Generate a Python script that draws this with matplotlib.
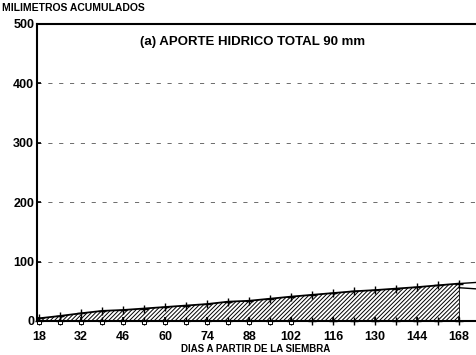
import matplotlib.pyplot as plt

plt.rcParams['font.family'] = ['Liberation Sans', 'DejaVu Sans']
plt.rcParams['hatch.linewidth'] = 0.7

# acumulado cada 7 dias desde la siembra
dias = [18, 25, 32, 39, 46, 53, 60, 67, 74, 81, 88, 95, 102, 109, 116,
        123, 130, 137, 144, 151, 158]
acumulado = [4.5, 8.5, 13, 17, 18.5, 21, 23.5, 26, 28.5, 32.5, 34, 37.5, 41,
             44, 47, 50, 52, 54.5, 57, 60, 63]
base = [0] * len(dias)
dias_cuadro = [18, 25, 32, 39, 46, 53, 60, 67, 74, 81, 88, 95, 102]

# tramo final despues del ultimo muestreo
dias_fin = [158, 164]
fin_sup = [63, 65]
fin_inf = [56, 54]

xticks = [18, 32, 46, 60, 74, 88, 102, 116, 130, 144, 158]
xlabels = ['18', '32', '46', '60', '74', '88', '102', '116', '130', '144', '168']
yticks = [0, 100, 200, 300, 400, 500]

fig = plt.figure(figsize=(4.77, 3.55), dpi=100)
ax = fig.add_axes([0.0776, 0.0958, 0.9224, 0.8366])

ax.fill_between(dias, base, acumulado, facecolor='white', edgecolor='black',
                hatch='////////', linewidth=0)
ax.plot([dias[-1], dias[-1]], [0, acumulado[-1]], color='black', lw=0.6)
ax.plot(dias, acumulado, color='black', lw=1.3, marker='+', ms=6, mew=1.0)
ax.plot(dias_fin, fin_sup, color='black', lw=1.0)
ax.plot(dias_fin, fin_inf, color='black', lw=1.0)
ax.plot(dias, base, color='black', lw=1.5, marker='+', ms=6, mew=1.0,
        linestyle='none', clip_on=False)
ax.plot(dias_cuadro, [-2] * len(dias_cuadro), marker='s', ms=3.5, mfc='white',
        mec='black', mew=0.7, linestyle='none', clip_on=False)

for y in yticks[1:-1]:
    ax.axhline(y, color='#555555', lw=0.6, dashes=(5, 8), zorder=0)

ax.set_xlim(17.3, 164)
ax.set_ylim(0, 500)
ax.set_xticks(xticks)
ax.set_xticklabels(xlabels)
ax.set_yticks(yticks)
ax.tick_params(axis='both', direction='in', length=3, width=1.2,
               labelsize=9)
ax.tick_params(axis='x', pad=7)
ax.tick_params(axis='y', pad=2)
for lab in ax.get_xticklabels() + ax.get_yticklabels():
    lab.set_fontweight('bold')

ax.spines['right'].set_visible(False)
for s in ['left', 'bottom', 'top']:
    ax.spines[s].set_linewidth(1.5)

ax.text(0.235, 0.94, '(a) APORTE HIDRICO TOTAL 90 mm', transform=ax.transAxes,
        fontsize=9.5, fontweight='bold', va='center', ha='left')
fig.text(0.005, 0.978, 'MILIMETROS ACUMULADOS', fontsize=7.5,
         fontweight='bold', va='center', ha='left')
fig.text(0.535, 0.017, 'DIAS A PARTIR DE LA SIEMBRA', fontsize=7,
         fontweight='bold', va='center', ha='center')

fig.savefig('out.png', dpi=100)
